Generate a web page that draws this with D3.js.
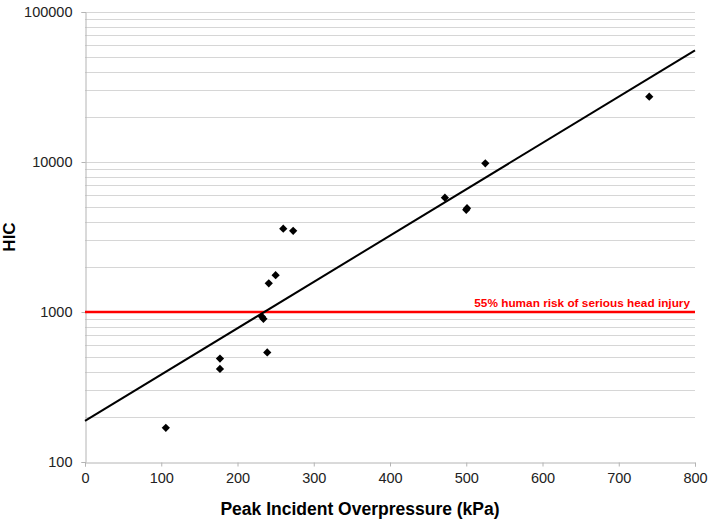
<!DOCTYPE html>
<html>
<head>
<meta charset="utf-8">
<script src="https://cdn.jsdelivr.net/npm/d3@7/dist/d3.min.js"></script>
<style>
  body { margin: 0; background: #fff; }
  svg { font-family: "Liberation Sans", Arial, sans-serif; }
</style>
</head>
<body>
<div id="chart"></div>
<script>
// data
var pressure = [106, 177, 177, 232, 234, 239, 241, 250, 260, 273, 472, 500, 501, 525, 740];
var hic      = [169, 489, 417, 930, 900, 538, 1553, 1758, 3590, 3480, 5780, 4800, 4920, 9800, 27250];
var xTicks = [0, 100, 200, 300, 400, 500, 600, 700, 800];
var yTicks = [100, 1000, 10000, 100000];
// exponential trend line HIC = a * exp(b * x)
var trendA = 188, trendB = 0.00711;
var threshold = 1000;
var thresholdLabel = "55% human risk of serious head injury";

var width = 709, height = 520;
var margin = {top: 12, right: 14, bottom: 58, left: 85};

var svg = d3.select("#chart").append("svg")
    .attr("width", width)
    .attr("height", height);

var x = d3.scaleLinear().domain([0, 800]).range([margin.left, width - margin.right]);
var y = d3.scaleLog().domain([100, 100000]).range([height - margin.bottom, margin.top]);

// grid lines on every 1..9 of each decade
var gridVals = [];
yTicks.forEach(function(d, i){
    if (i < yTicks.length - 1) {
        for (var k = 1; k < 10; k++) gridVals.push(d * k);
    } else gridVals.push(d);
});
svg.append("g").selectAll("line")
    .data(gridVals.filter(function(d){ return d > 100; }))
    .enter().append("line")
    .attr("x1", x(0)).attr("x2", x(800))
    .attr("y1", function(d){ return Math.round(y(d)) + 0.5; })
    .attr("y2", function(d){ return Math.round(y(d)) + 0.5; })
    .attr("stroke", "#d6d6d6")
    .attr("stroke-width", 1);

var yAxis = svg.append("g")
    .attr("transform", "translate(" + (x(0) + 0.5) + ",0)")
    .call(d3.axisLeft(y).tickValues(yTicks).tickFormat(d3.format("d")).tickSize(4).tickPadding(9));
var xAxis = svg.append("g")
    .attr("transform", "translate(0," + (Math.round(y(100)) + 0.5) + ")")
    .call(d3.axisBottom(x).tickValues(xTicks).tickSize(4).tickPadding(6));

[xAxis, yAxis].forEach(function(a){
    a.select(".domain").attr("stroke", "#b4b4b4");
    a.selectAll(".tick line").attr("stroke", "#b4b4b4");
    a.selectAll("text").attr("fill", "#222").style("font-size", "14.5px");
});

// threshold line
svg.append("line")
    .attr("x1", x(0)).attr("x2", x(800))
    .attr("y1", y(threshold)).attr("y2", y(threshold))
    .attr("stroke", "#ff0000")
    .attr("stroke-width", 2.5);
svg.append("text")
    .attr("x", x(800) - 5)
    .attr("y", y(threshold) - 5)
    .attr("text-anchor", "end")
    .attr("fill", "#ff0000")
    .style("font-size", "11.8px")
    .style("font-weight", "bold")
    .text(thresholdLabel);

// trend line
var trendX = [0, 800];
svg.append("path")
    .datum(trendX)
    .attr("fill", "none")
    .attr("stroke", "#000")
    .attr("stroke-width", 2)
    .attr("d", d3.line()
        .x(function(d){ return x(d); })
        .y(function(d){ return y(trendA * Math.exp(trendB * d)); }));

// points
var sym = d3.symbol().type(d3.symbolSquare).size(34);
svg.selectAll(".pt")
    .data(pressure)
    .enter().append("path")
    .attr("class", "pt")
    .attr("d", sym)
    .attr("fill", "#000")
    .attr("transform", function(d, i){
        return "translate(" + x(d) + "," + y(hic[i]) + ") rotate(45)";
    });

// axis titles
svg.append("text")
    .attr("x", 360)
    .attr("y", 515)
    .attr("text-anchor", "middle")
    .style("font-size", "17.5px")
    .style("font-weight", "bold")
    .text("Peak Incident Overpressure (kPa)");
svg.append("text")
    .attr("transform", "translate(15," + 237 + ") rotate(-90)")
    .attr("text-anchor", "middle")
    .style("font-size", "17px")
    .style("font-weight", "bold")
    .text("HIC");
</script>
</body>
</html>
